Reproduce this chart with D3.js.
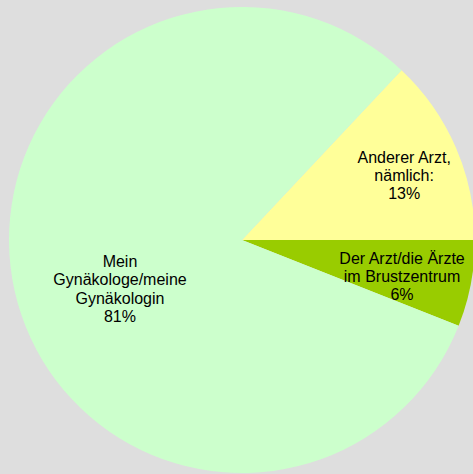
<!DOCTYPE html>
<html>
<head>
<meta charset="utf-8">
<script src="https://cdn.jsdelivr.net/npm/d3@7"></script>
<style>
  body { margin: 0; background: #dedede; }
  svg { display: block; }
  .pie-label { font-family: "Liberation Sans", Arial, sans-serif; font-size: 16px; fill: #000; }
</style>
</head>
<body>
<div id="chart"></div>
<script>
// slice data, in drawing order (clockwise from the yellow slice)
var categories = ['Anderer Arzt, nämlich:', 'Der Arzt/die Ärzte im Brustzentrum', 'Mein Gynäkologe/meine Gynäkologin'];
var labelLines = [
    ['Anderer Arzt,', 'nämlich:'],
    ['Der Arzt/die Ärzte', 'im Brustzentrum'],
    ['Mein', 'Gynäkologe/meine', 'Gynäkologin']
];
var values = [13, 6, 81];
var colors = ['#ffff99', '#99cc00', '#ccffcc'];

var width = 473, height = 474;
var cx = 242, cy = 240, radius = 233;

var svg = d3.select('#chart').append('svg')
    .attr('width', width)
    .attr('height', height);

var g = svg.append('g')
    .attr('transform', 'translate(' + cx + ',' + cy + ')');

var total = d3.sum(values);
// yellow slice ends at 3 o'clock
var start = Math.PI / 2 - values[0] / total * 2 * Math.PI;

var pie = d3.pie()
    .sort(null)
    .startAngle(start)
    .endAngle(start + 2 * Math.PI);

var arcs = pie(values);

var arc = d3.arc()
    .innerRadius(0)
    .outerRadius(radius);

g.selectAll('path')
    .data(arcs)
    .enter().append('path')
    .attr('d', arc)
    .attr('fill', function (d, i) { return colors[i]; });

// label radius / extra angle shift per slice (Excel "best fit" placement)
var labelPos = [
    {r: 0.748, shift: 0.033},
    {r: 0.705, shift: 0.039},
    {r: 0.565, shift: -0.165}
];

var lineH = 18.4;

var labels = g.selectAll('.pie-label')
    .data(arcs)
    .enter().append('text')
    .attr('class', 'pie-label')
    .attr('text-anchor', 'middle')
    .attr('transform', function (d, i) {
        var a = (d.startAngle + d.endAngle) / 2 + labelPos[i].shift;
        var r = radius * labelPos[i].r;
        return 'translate(' + (Math.sin(a) * r) + ',' + (-Math.cos(a) * r) + ')';
    });

labels.each(function (d, i) {
    var lines = labelLines[i].concat([Math.round(values[i] / total * 100) + '%']);
    var n = lines.length;
    d3.select(this).selectAll('tspan')
        .data(lines)
        .enter().append('tspan')
        .attr('x', 0)
        .attr('y', function (t, j) { return (j - (n - 1) / 2) * lineH + 5; })
        .text(function (t) { return t; });
});
</script>
</body>
</html>
